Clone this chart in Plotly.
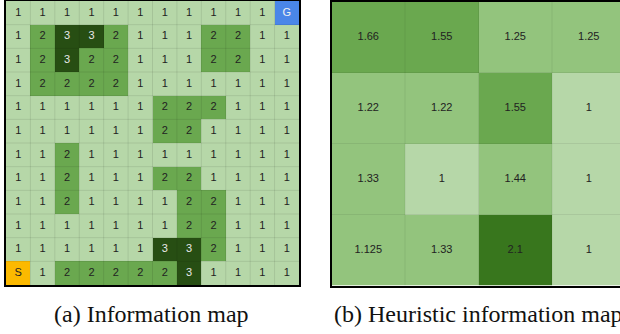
import plotly.graph_objects as go

# ---- data ----
info_map = [
    ["1", "1", "1", "1", "1", "1", "1", "1", "1", "1", "1", "G"],
    ["1", "2", "3", "3", "2", "1", "1", "1", "2", "2", "1", "1"],
    ["1", "2", "3", "2", "2", "1", "1", "1", "2", "2", "1", "1"],
    ["1", "2", "2", "2", "2", "1", "1", "1", "1", "1", "1", "1"],
    ["1", "1", "1", "1", "1", "1", "2", "2", "2", "1", "1", "1"],
    ["1", "1", "1", "1", "1", "1", "2", "2", "1", "1", "1", "1"],
    ["1", "1", "2", "1", "1", "1", "1", "1", "1", "1", "1", "1"],
    ["1", "1", "2", "1", "1", "1", "2", "2", "1", "1", "1", "1"],
    ["1", "1", "2", "1", "1", "1", "1", "2", "2", "1", "1", "1"],
    ["1", "1", "1", "1", "1", "1", "1", "2", "2", "1", "1", "1"],
    ["1", "1", "1", "1", "1", "1", "3", "3", "2", "1", "1", "1"],
    ["S", "1", "2", "2", "2", "2", "2", "3", "1", "1", "1", "1"],
]
heur_map = [
    [1.66, 1.55, 1.25, 1.25],
    [1.22, 1.22, 1.55, 1],
    [1.33, 1, 1.44, 1],
    [1.125, 1.33, 2.1, 1],
]
captions = ["(a) Information map", "(b) Heuristic information map"]

# ---- styling ----
W, H = 620, 334
left_px = (6, 299, 1, 285)     # x0, x1, y0(top), y1(bottom)
right_px = (331.5, 620, 1.5, 285.5)
cell_colors = {"1": "#b6d7a8", "2": "#6aa84f", "3": "#274e13", "S": "#fbb900", "G": "#4a86e8"}
code = {"1": 0, "2": 1, "3": 2, "S": 3, "G": 4}
order = ["1", "2", "3", "S", "G"]

def disc_scale(colors):
    n = len(colors)
    sc = []
    for i, c in enumerate(colors):
        sc.append([i / n, c])
        sc.append([(i + 1) / n, c])
    return sc

def px_dom_x(a, b):
    return [a / W, b / W]

def px_dom_y(top, bot):
    return [1 - bot / H, 1 - top / H]

fig = go.Figure()

# left heatmap
nL = len(info_map)
zL = [[code[v] for v in row] for row in info_map]
fig.add_trace(go.Heatmap(
    z=zL, x=list(range(nL)), y=list(range(nL)),
    colorscale=disc_scale([cell_colors[k] for k in order]), zmin=-0.5, zmax=4.5,
    showscale=False, hoverinfo="skip", xaxis="x", yaxis="y"))
tx, ty, tt, tc = [], [], [], []
for r, row in enumerate(info_map):
    for c, v in enumerate(row):
        tx.append(c); ty.append(r); tt.append(v)
        tc.append("#e8e8e8" if v == "3" else ("#f2f2f2" if v == "G" else "#222222"))
fig.add_trace(go.Scatter(x=tx, y=ty, text=tt, mode="text",
                         textfont=dict(family="Liberation Sans, Arial", size=11, color=tc),
                         hoverinfo="skip", xaxis="x", yaxis="y", showlegend=False))

# right heatmap
def level(v):
    if v >= 2: return 3
    if v >= 1.5: return 2
    if v > 1: return 1
    return 0
nR = len(heur_map)
zR = [[level(v) for v in row] for row in heur_map]
fig.add_trace(go.Heatmap(
    z=zR, x=list(range(nR)), y=list(range(nR)),
    colorscale=disc_scale(["#b6d7a8", "#93c47d", "#6aa84f", "#38761d"]), zmin=-0.5, zmax=3.5,
    showscale=False, hoverinfo="skip", xaxis="x2", yaxis="y2"))
rx, ry, rt = [], [], []
for r, row in enumerate(heur_map):
    for c, v in enumerate(row):
        rx.append(c); ry.append(r); rt.append(f"{v:g}")
fig.add_trace(go.Scatter(x=rx, y=ry, text=rt, mode="text",
                         textfont=dict(family="Liberation Sans, Arial", size=11, color="#222222"),
                         hoverinfo="skip", xaxis="x2", yaxis="y2", showlegend=False))

# grid lines between cells
shapes = []
for i in range(1, nL):
    shapes.append(dict(type="line", xref="x", yref="y", x0=i - 0.5, x1=i - 0.5, y0=-0.5, y1=nL - 0.5,
                       line=dict(color="rgba(0,0,0,0.09)", width=1), layer="above"))
    shapes.append(dict(type="line", xref="x", yref="y", y0=i - 0.5, y1=i - 0.5, x0=-0.5, x1=nL - 0.5,
                       line=dict(color="rgba(0,0,0,0.09)", width=1), layer="above"))
for i in range(1, nR + 1):
    shapes.append(dict(type="line", xref="x2", yref="y2", x0=i - 0.5, x1=i - 0.5, y0=-0.5, y1=nR - 0.5,
                       line=dict(color="rgba(0,0,0,0.07)", width=1), layer="above"))
for i in range(1, nR):
    shapes.append(dict(type="line", xref="x2", yref="y2", y0=i - 0.5, y1=i - 0.5, x0=-0.5, x1=nR - 0.5,
                       line=dict(color="rgba(0,0,0,0.07)", width=1), layer="above"))

r_xmax = -0.5 + (right_px[1] - right_px[0]) / 73.5

axis_common = dict(showticklabels=False, ticks="", showgrid=False, zeroline=False,
                   showline=True, linecolor="black", linewidth=2)
fig.update_layout(
    width=W, height=H, margin=dict(l=0, r=0, t=0, b=0),
    paper_bgcolor="white", plot_bgcolor="white", showlegend=False,
    shapes=shapes,
    xaxis=dict(domain=px_dom_x(left_px[0], left_px[1]), range=[-0.5, nL - 0.5], mirror=True, **axis_common),
    yaxis=dict(domain=px_dom_y(left_px[2], left_px[3]), range=[nL - 0.5, -0.5], mirror=True, **axis_common),
    xaxis2=dict(domain=px_dom_x(right_px[0], right_px[1]), range=[-0.5, r_xmax], mirror=True,
                anchor="y2", **axis_common),
    yaxis2=dict(domain=px_dom_y(right_px[2], right_px[3]), range=[nR - 0.5, -0.5], mirror=False,
                anchor="x2", **axis_common),
    annotations=[
        dict(text=captions[0], xref="paper", yref="paper", x=151.5 / W, y=1 - 314 / H,
             xanchor="center", yanchor="middle", showarrow=False,
             font=dict(family="Liberation Serif, Times New Roman", size=24, color="#111111")),
        dict(text=captions[1], xref="paper", yref="paper", x=332 / W, y=1 - 314 / H,
             xanchor="left", yanchor="middle", showarrow=False,
             font=dict(family="Liberation Serif, Times New Roman", size=24, color="#111111")),
    ],
)
fig.write_html("out.html", config={"displayModeBar": False},
               post_script="document.body.style.margin='0';document.body.style.overflow='hidden';")
